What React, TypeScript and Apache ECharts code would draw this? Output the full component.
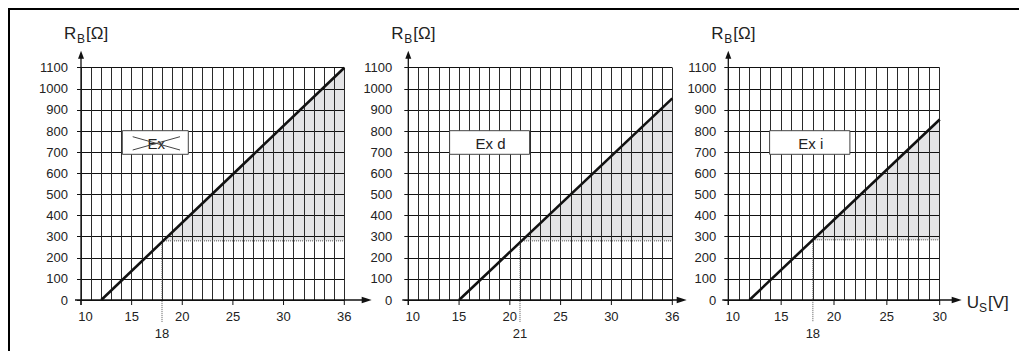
import React, { useEffect, useRef } from 'react';
import * as echarts from 'echarts';

// ---------- data ----------
const yMin = 0;
const yMax = 1100;
const yStep = 100;
const xMin = 10;
const xMaxs = [36, 36, 30];
const xLabelsA = [10, 15, 20, 25, 30, 36];
const xLabelsB = [10, 15, 20, 25, 30, 36];
const xLabelsC = [10, 15, 20, 25, 30];
const lineEx = [[12, 0], [36, 1100]];
const lineExD = [[15, 0], [36, 955]];
const lineExI = [[12, 0], [30, 855]];
const shadeEx = [[18.1, 280], [36, 1100], [36, 280]];
const shadeExD = [[21.2, 280], [36, 955], [36, 280]];
const shadeExI = [[18, 285], [30, 855], [30, 285]];
const markerU = [18, 21, 18];
const thresholdR = [280, 280, 285];
const panelNames = ['Ex', 'Ex d', 'Ex i'];

// ---------- layout ----------
const FONT = "'Liberation Sans', Arial, Helvetica, sans-serif";
const gridTop = 59.7;
const gridHeight = 232.3;
const layout = [
  { left: 73, width: 263.3, arrowExt: 27.4, yMargin: 13, boxW: 66 },
  { left: 400.3, width: 264, arrowExt: 14.4, yMargin: 16, boxW: 80 },
  { left: 720.3, width: 211.4, arrowExt: 22, yMargin: 12, boxW: 80.3 },
];
const xLabelSets = [xLabelsA, xLabelsB, xLabelsC];
const lines = [lineEx, lineExD, lineExI];
const shades = [shadeEx, shadeExD, shadeExI];

const INK = '#111';
const TXT = '#222';

function buildOption() {
  const grid: any[] = [];
  const xAxis: any[] = [];
  const yAxis: any[] = [];
  const series: any[] = [];
  const graphic: any[] = [];

  // frame (top and left edges)
  graphic.push({ type: 'rect', z: 20, shape: { x: 0, y: 0, width: 2, height: 343 }, style: { fill: '#000' } });
  graphic.push({ type: 'rect', z: 20, shape: { x: 0, y: 0, width: 1019, height: 2 }, style: { fill: '#000' } });

  layout.forEach((L, i) => {
    const xMax = xMaxs[i];
    const labels = xLabelSets[i];
    grid.push({ left: L.left, top: gridTop, width: L.width, height: gridHeight, containLabel: false });
    xAxis.push({
      gridIndex: i,
      type: 'value',
      min: xMin,
      max: xMax,
      interval: 1,
      axisLine: { show: false },
      axisTick: { show: false },
      splitLine: { show: true, lineStyle: { color: '#2a2a2a', width: 1 } },
      axisLabel: {
        customValues: labels,
        margin: 10,
        fontSize: 13,
        fontFamily: FONT,
        color: TXT,
        formatter: (v: number) => (v === xMin ? '{first|' + v + '}' : String(v)),
        rich: { first: { padding: [0, 0, 0, 9], fontSize: 13, fontFamily: FONT, color: TXT } },
      },
    });
    yAxis.push({
      gridIndex: i,
      type: 'value',
      min: yMin,
      max: yMax,
      interval: yStep,
      axisLine: { show: false },
      axisTick: { show: true, length: 4, lineStyle: { color: INK, width: 1 } },
      splitLine: { show: true, lineStyle: { color: INK, width: 1 } },
      axisLabel: { margin: L.yMargin, fontSize: 13, fontFamily: FONT, color: TXT, formatter: (v: number) => String(v) },
    });

    const shade = shades[i];
    series.push({
      type: 'custom',
      xAxisIndex: i,
      yAxisIndex: i,
      z: -1,
      clip: false,
      silent: true,
      data: [[xMin, 0]],
      renderItem: (_p: any, api: any) => ({
        type: 'polygon',
        shape: { points: shade.map((pt) => api.coord(pt)) },
        style: { fill: '#e4e4e6' },
      }),
    });

    const marker = markerU[i];
    const thr = thresholdR[i];
    series.push({
      type: 'custom',
      xAxisIndex: i,
      yAxisIndex: i,
      z: 4,
      clip: false,
      silent: true,
      data: [[xMin, 0]],
      renderItem: (_p: any, api: any) => {
        const o = api.coord([xMin, 0]);
        const xe = api.coord([xMax, 0]);
        const yt = api.coord([xMin, yMax]);
        const m = api.coord([marker, thr]);
        const mr = api.coord([xMax, thr]);
        const tipX = xe[0] + L.arrowExt;
        const tipY = yt[1] - 17;
        const children: any[] = [
          { type: 'line', shape: { x1: m[0], y1: m[1], x2: m[0], y2: o[1] + 22 }, style: { stroke: '#555', lineWidth: 1, lineDash: [1, 1] } },
          { type: 'line', shape: { x1: m[0], y1: m[1], x2: mr[0], y2: mr[1] }, style: { stroke: '#555', lineWidth: 1, lineDash: [1, 1] } },
          { type: 'line', shape: { x1: o[0] - 6, y1: o[1], x2: tipX - 6, y2: o[1] }, style: { stroke: INK, lineWidth: 1.3 } },
          { type: 'polygon', shape: { points: [[tipX, o[1]], [tipX - 10, o[1] - 3.2], [tipX - 10, o[1] + 3.2]] }, style: { fill: INK } },
          { type: 'line', shape: { x1: o[0], y1: o[1] + 5, x2: o[0], y2: tipY + 6 }, style: { stroke: INK, lineWidth: 1.3 } },
          { type: 'polygon', shape: { points: [[o[0], tipY], [o[0] - 3, tipY + 8], [o[0] + 3, tipY + 8]] }, style: { fill: INK } },
          { type: 'text', style: { text: String(marker), x: m[0], y: o[1] + 33, align: 'center', verticalAlign: 'middle', fontSize: 13, fontFamily: FONT, fill: TXT } },
        ];
        labels.forEach((v) => {
          const p = api.coord([v, 0]);
          children.push({ type: 'line', shape: { x1: p[0], y1: p[1], x2: p[0], y2: p[1] + 5 }, style: { stroke: INK, lineWidth: 1 } });
        });
        return { type: 'group', children };
      },
    });

    series.push({
      type: 'line',
      xAxisIndex: i,
      yAxisIndex: i,
      data: lines[i],
      symbol: 'none',
      clip: false,
      z: 5,
      lineStyle: { color: INK, width: 2.6 },
    });

    // y-axis title R_B[Ω]
    const tx = L.left - 17;
    graphic.push({ type: 'text', z: 10, style: { text: 'R', x: tx, y: 25.5, verticalAlign: 'middle', fontSize: 17, fontFamily: FONT, fill: TXT } });
    graphic.push({ type: 'text', z: 10, style: { text: 'B', x: tx + 13, y: 30.5, verticalAlign: 'middle', fontSize: 12, fontFamily: FONT, fill: TXT } });
    graphic.push({ type: 'text', z: 10, style: { text: '[Ω]', x: tx + 22, y: 25.5, verticalAlign: 'middle', fontSize: 17, fontFamily: FONT, fill: TXT } });

    // protection type box
    const bx = L.left + 41.3;
    const by = 122.7;
    const bh = 23.6;
    graphic.push({ type: 'rect', z: 10, shape: { x: bx, y: by, width: L.boxW, height: bh }, style: { fill: '#fff', stroke: '#444', lineWidth: 1 } });
    graphic.push({ type: 'text', z: 11, style: { text: panelNames[i], x: bx + L.boxW / 2 + 1, y: by + bh / 2 + 0.5, align: 'center', verticalAlign: 'middle', fontSize: 15, fontFamily: FONT, fill: TXT } });
    if (i === 0) {
      graphic.push({ type: 'line', z: 12, shape: { x1: bx + 10.4, y1: by + 6, x2: bx + 57.7, y2: by + 19.3 }, style: { stroke: '#444', lineWidth: 1 } });
      graphic.push({ type: 'line', z: 12, shape: { x1: bx + 10.4, y1: by + 19.3, x2: bx + 57.7, y2: by + 6 }, style: { stroke: '#444', lineWidth: 1 } });
    }
  });

  // x-axis title U_S[V]
  graphic.push({ type: 'text', z: 10, style: { text: 'U', x: 958.7, y: 294.7, verticalAlign: 'middle', fontSize: 17, fontFamily: FONT, fill: TXT } });
  graphic.push({ type: 'text', z: 10, style: { text: 'S', x: 971, y: 300, verticalAlign: 'middle', fontSize: 12, fontFamily: FONT, fill: TXT } });
  graphic.push({ type: 'text', z: 10, style: { text: '[V]', x: 980, y: 294.7, verticalAlign: 'middle', fontSize: 17, fontFamily: FONT, fill: TXT } });

  return { animation: false, backgroundColor: '#fff', grid, xAxis, yAxis, series, graphic };
}

export default function App() {
  const ref = useRef<HTMLDivElement>(null);
  useEffect(() => {
    const chart = echarts.init(ref.current!, null, { renderer: 'svg' });
    chart.setOption(buildOption() as any);
    return () => chart.dispose();
  }, []);
  return <div ref={ref} style={{ width: 1019, height: 343 }} />;
}
